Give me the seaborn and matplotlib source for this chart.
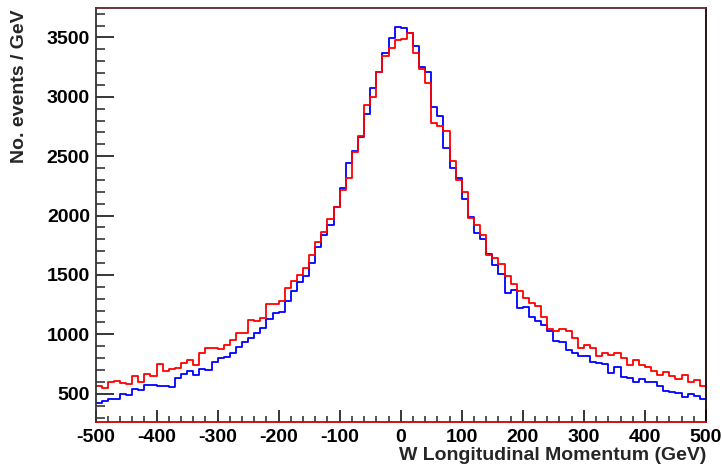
import numpy as np
import pandas as pd
import matplotlib
matplotlib.use("Agg")
import matplotlib.pyplot as plt
import seaborn as sns
from matplotlib.ticker import MultipleLocator

# ---- data ----
n_bins = 100
p_range = (-500, 500)                              # 100 bins of 10 GeV
bin_edges = np.linspace(p_range[0], p_range[1], n_bins + 1)
bin_centers = (bin_edges[:-1] + bin_edges[1:]) / 2

blue_counts = [
    424, 440, 455, 452, 500, 486, 540, 528, 576, 570,
    565, 565, 559, 632, 668, 688, 657, 705, 699, 768,
    800, 810, 846, 895, 937, 972, 1015, 1050, 1129, 1180,
    1190, 1278, 1364, 1440, 1491, 1598, 1738, 1840, 1923, 2074,
    2229, 2439, 2545, 2660, 2854, 3076, 3211, 3365, 3491, 3584,
    3582, 3540, 3424, 3253, 3208, 2913, 2837, 2565, 2397, 2320,
    2136, 1987, 1850, 1802, 1676, 1583, 1507, 1352, 1373, 1222,
    1228, 1146, 1114, 1078, 1030, 948, 932, 868, 845, 814,
    815, 766, 755, 748, 674, 727, 645, 629, 601, 625,
    597, 597, 566, 523, 514, 505, 472, 497, 481, 452,
]

red_counts = [
    562, 550, 596, 610, 590, 585, 649, 601, 669, 649,
    747, 691, 711, 719, 761, 784, 744, 846, 885, 885,
    879, 913, 949, 1014, 1014, 1121, 1112, 1138, 1253, 1253,
    1281, 1393, 1449, 1500, 1560, 1668, 1781, 1860, 1970, 2074,
    2215, 2313, 2535, 2669, 2930, 3000, 3211, 3343, 3407, 3477,
    3486, 3540, 3365, 3230, 3115, 2776, 2750, 2708, 2460, 2299,
    2200, 1976, 1920, 1836, 1667, 1639, 1589, 1493, 1423, 1364,
    1303, 1263, 1243, 1148, 1045, 1030, 1047, 1032, 973, 886,
    907, 886, 817, 846, 825, 842, 805, 745, 786, 742,
    725, 693, 657, 685, 646, 628, 660, 601, 618, 562,
]

x_label = "W Longitudinal Momentum (GeV)"
y_label = "No. events / GeV"

# ---- style ----
sns.set_theme(style="ticks")
plt.rcParams['font.family'] = ['Liberation Sans', 'DejaVu Sans']
plt.rcParams['font.weight'] = 'bold'
plt.rcParams['axes.labelweight'] = 'bold'
plt.rcParams['axes.unicode_minus'] = False

fig = plt.figure(figsize=(7.22, 4.69), dpi=100)
ax = fig.add_axes([0.1323, 0.1009, 0.8455, 0.8827])

df_blue = pd.DataFrame({"p": bin_centers, "n": blue_counts})
df_red = pd.DataFrame({"p": bin_centers, "n": red_counts})

sns.histplot(data=df_blue, x="p", weights="n", bins=n_bins, binrange=p_range,
             element="step", fill=False, color="#0000ff", linewidth=1.3, ax=ax)
sns.histplot(data=df_red, x="p", weights="n", bins=n_bins, binrange=p_range,
             element="step", fill=False, color="#ff0000", linewidth=1.3, ax=ax)

ax.set_xlim(-500, 500)
ax.set_ylim(265, 3750)

ax.xaxis.set_major_locator(MultipleLocator(100))
ax.xaxis.set_minor_locator(MultipleLocator(20))
ax.yaxis.set_major_locator(MultipleLocator(500))
ax.yaxis.set_minor_locator(MultipleLocator(100))

ax.tick_params(axis='x', which='major', direction='in', length=8.5, width=1.1,
               bottom=True, top=False, labelsize=14, pad=5, colors='black')
ax.tick_params(axis='x', which='minor', direction='in', length=4.5, width=1.1,
               bottom=True, top=False)
ax.tick_params(axis='y', which='major', direction='in', length=13, width=1.1,
               left=True, right=False, labelsize=14, pad=4, colors='black')
ax.tick_params(axis='y', which='minor', direction='in', length=6.5, width=1.1,
               left=True, right=False)

for lbl in ax.get_xticklabels() + ax.get_yticklabels():
    lbl.set_fontweight('bold')

for side in ['left', 'bottom', 'top', 'right']:
    ax.spines[side].set_visible(True)
    ax.spines[side].set_linewidth(1.3)
ax.spines['left'].set_color('#333333')
ax.spines['bottom'].set_color('#cc0000')
ax.spines['top'].set_color('#5a2a2a')
ax.spines['right'].set_color('#1a0000')

ax.set_xlabel(x_label, fontsize=14, fontweight='bold', loc='right')
ax.set_ylabel(y_label, fontsize=14, fontweight='bold', loc='top')
ax.xaxis.set_label_coords(1.0, -0.06)
ax.xaxis.label.set_va('top')
ax.yaxis.set_label_coords(-0.11, 0.995)

fig.savefig("out.png", dpi=100)
